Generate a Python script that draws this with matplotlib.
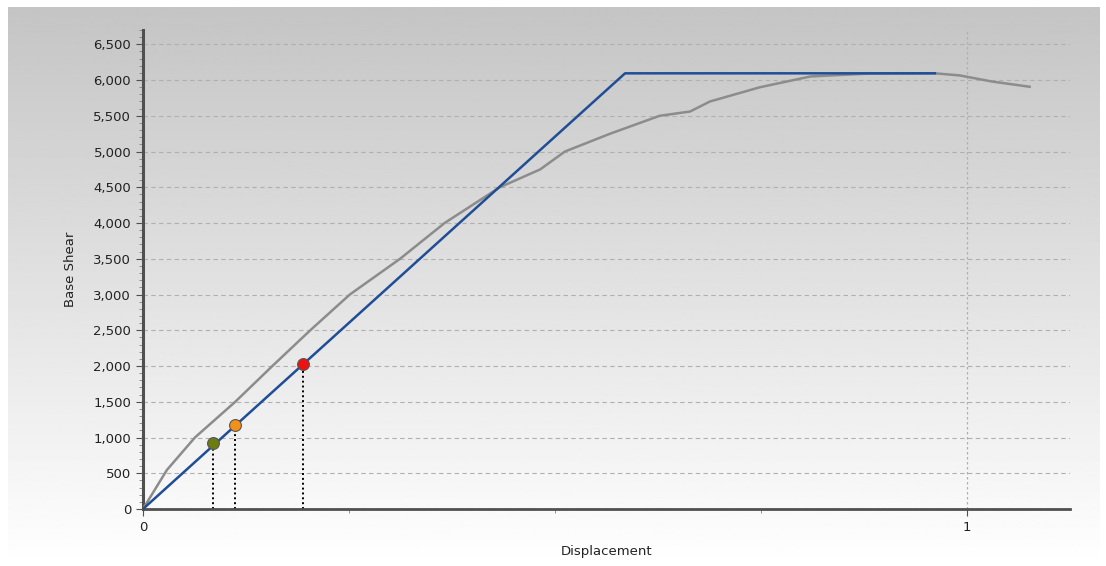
import matplotlib.pyplot as plt
import numpy as np
from matplotlib.ticker import MultipleLocator, FuncFormatter

# courbe de capacité (gris)
cap_x = [0, 0.029, 0.063, 0.112, 0.157, 0.203, 0.251, 0.312, 0.366, 0.433, 0.482,
         0.512, 0.567, 0.627, 0.664, 0.688, 0.749, 0.81, 0.88, 0.96, 0.991, 1.03, 1.076]
cap_y = [0, 546, 1000, 1500, 2000, 2500, 3000, 3500, 4000, 4500, 4750,
         5000, 5250, 5500, 5560, 5700, 5900, 6050, 6090, 6095, 6065, 5980, 5906]

# courbe bilinéaire (bleue)
bil_x = [0, 0.585, 0.961]
bil_y = [0, 6094, 6094]

# points de performance
pts_x = [0.085, 0.112, 0.194]
pts_y = [924, 1176, 2030]
pts_col = ['#6b7d10', '#f39019', '#ee1111']

fig = plt.figure(figsize=(11.06, 5.66), dpi=100)
fig.patch.set_facecolor('white')

# fond dégradé gris -> blanc
bg = fig.add_axes([8 / 1106, 0, 1092 / 1106, 1 - 7 / 566], zorder=0)
grad = np.linspace(0.77, 1.0, 256).reshape(-1, 1)
bg.imshow(grad, aspect='auto', cmap='gray', vmin=0, vmax=1, extent=[0, 1, 1, 0])
bg.axis('off')

ax = fig.add_axes([143 / 1106, 57 / 566, 927 / 1106, 479 / 566], zorder=1)
ax.patch.set_alpha(0)

ax.plot(cap_x, cap_y, color='#8c8c8c', lw=1.8, zorder=3)
ax.plot(bil_x, bil_y, color='#1f4e96', lw=1.8, zorder=4)
for x, y, c in zip(pts_x, pts_y, pts_col):
    ax.plot([x, x], [0, y], color='black', ls=(0, (1, 1.5)), lw=1.4, zorder=2)
    ax.plot(x, y, 'o', ms=8.5, mfc=c, mec='#555555', mew=0.8, zorder=5)

ax.set_xlim(0, 1.125)
ax.set_ylim(0, 6700)
ax.yaxis.set_major_locator(MultipleLocator(500))
ax.yaxis.set_minor_locator(MultipleLocator(100))
ax.xaxis.set_major_locator(MultipleLocator(1))
ax.xaxis.set_minor_locator(MultipleLocator(0.25))
ax.yaxis.set_major_formatter(FuncFormatter(lambda v, p: f'{int(v):,}'))
ax.xaxis.set_major_formatter(FuncFormatter(lambda v, p: f'{int(v)}'))

ax.grid(True, which='major', axis='y', color='#b0b0b0', ls=(0, (4, 3)), lw=0.8)
ax.axvline(1, color='#b0b0b0', ls=(0, (2, 2)), lw=0.9, zorder=1)

for s in ['top', 'right']:
    ax.spines[s].set_visible(False)
ax.spines['left'].set_color('#505050')
ax.spines['left'].set_linewidth(2.2)
ax.spines['bottom'].set_color('#505050')
ax.spines['bottom'].set_linewidth(2)
ax.tick_params(axis='both', which='major', length=5, color='#505050', labelsize=9.5, labelcolor='#222222')
ax.tick_params(axis='both', which='minor', length=3, color='#808080')

ax.set_xlabel('Displacement', fontsize=9.5, color='#222222', labelpad=8)
ax.set_ylabel('Base Shear', fontsize=9.5, color='#222222', labelpad=12)

fig.savefig('out.png', dpi=100)
